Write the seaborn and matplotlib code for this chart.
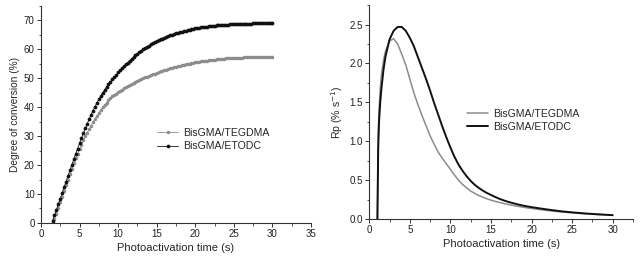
import numpy as np
import pandas as pd
import matplotlib
matplotlib.use("Agg")
import matplotlib.pyplot as plt
from matplotlib.ticker import MultipleLocator, FormatStrFormatter
import seaborn as sns

# ---------------- data ----------------
series_names = ["BisGMA/TEGDMA", "BisGMA/ETODC"]

dc_time = np.arange(1.5, 30.001, 0.25)

dc_tegdma = [0.0, 1.5,
             3.2, 5.2, 7.1, 9.1,
             11.0, 13.0, 14.9, 16.9,
             18.8, 20.6, 22.3, 23.9,
             25.5, 27.0, 28.5, 29.9,
             31.2, 32.4, 33.6, 34.8,
             36.0, 37.0, 38.0, 39.0,
             40.0, 40.8, 41.6, 42.5,
             43.3, 43.8, 44.3, 44.7,
             45.2, 45.6, 46.1, 46.5,
             46.9, 47.3, 47.7, 48.0,
             48.4, 48.7, 49.1, 49.4,
             49.7, 50.0, 50.3, 50.5,
             50.8, 51.1, 51.4, 51.6,
             51.9, 52.1, 52.4, 52.6,
             52.8, 53.0, 53.2, 53.4,
             53.6, 53.8, 54.0, 54.1,
             54.3, 54.5, 54.6, 54.8,
             54.9, 55.05, 55.2, 55.35,
             55.5, 55.6, 55.7, 55.8,
             55.9, 56.0, 56.1, 56.2,
             56.3, 56.4, 56.45, 56.55,
             56.6, 56.7, 56.75, 56.8,
             56.85, 56.9, 56.95, 57.0,
             57.0, 57.05, 57.1, 57.1,
             57.15, 57.2, 57.2, 57.25,
             57.25, 57.3, 57.3, 57.35,
             57.35, 57.4, 57.4, 57.45,
             57.45, 57.5, 57.5, 57.5,
             57.5]

dc_etodc = [0.8, 2.6,
            4.5, 6.5, 8.4, 10.4,
            12.3, 14.3, 16.2, 18.2,
            20.1, 22.0, 23.9, 25.7,
            27.5, 29.3, 31.0, 32.7,
            34.3, 35.9, 37.4, 38.8,
            40.2, 41.5, 42.7, 43.9,
            45.0, 46.0, 47.0, 47.9,
            48.8, 49.6, 50.4, 51.2,
            52.0, 52.7, 53.4, 54.1,
            54.8, 55.4, 56.1, 56.7,
            57.3, 57.9, 58.4, 59.0,
            59.5, 60.0, 60.4, 60.9,
            61.3, 61.7, 62.1, 62.5,
            62.8, 63.1, 63.4, 63.7,
            64.0, 64.3, 64.5, 64.8,
            65.0, 65.2, 65.5, 65.7,
            65.9, 66.1, 66.3, 66.4,
            66.6, 66.8, 66.9, 67.1,
            67.2, 67.3, 67.45, 67.6,
            67.7, 67.8, 67.85, 67.95,
            68.0, 68.1, 68.15, 68.25,
            68.3, 68.35, 68.4, 68.45,
            68.5, 68.55, 68.6, 68.65,
            68.7, 68.72, 68.75, 68.78,
            68.8, 68.82, 68.85, 68.88,
            68.9, 68.92, 68.95, 68.97,
            69.0, 69.0, 69.0, 69.0,
            69.0, 69.02, 69.05, 69.07,
            69.1]

rp_time = [1.0, 1.1, 1.2, 1.35, 1.5, 1.75, 2.0, 2.5, 3.0, 3.5, 4.0, 4.5, 5.0,
           5.5, 6.0, 6.5, 7.0, 7.5, 8.0, 8.5, 9.0, 9.5, 10.0, 10.5, 11.0,
           11.5, 12.0, 12.5, 13.0, 13.5, 14.0, 14.5, 15.0, 15.5, 16.0, 16.5,
           17.0, 17.5, 18.0, 18.5, 19.0, 19.5, 20.0, 21.0, 22.0, 23.0, 24.0,
           25.0, 26.0, 27.0, 28.0, 29.0, 30.0]

rp_tegdma = [0.0, 1.1, 1.4, 1.68, 1.86, 2.04, 2.16, 2.29, 2.32, 2.25, 2.12,
             1.98, 1.80, 1.62, 1.47, 1.33, 1.20, 1.07, 0.96, 0.86, 0.78, 0.71,
             0.64, 0.565, 0.50, 0.445, 0.40, 0.36, 0.33, 0.302, 0.28, 0.26,
             0.243, 0.228, 0.214, 0.201, 0.19, 0.179, 0.169, 0.16, 0.151,
             0.143, 0.136, 0.122, 0.109, 0.098, 0.088, 0.08, 0.072, 0.066,
             0.06, 0.055, 0.05]

rp_etodc = [0.0, 0.9, 1.25, 1.5, 1.68, 1.92, 2.09, 2.31, 2.42, 2.47, 2.47,
            2.42, 2.33, 2.22, 2.08, 1.94, 1.80, 1.65, 1.49, 1.34, 1.19, 1.05,
            0.92, 0.80, 0.70, 0.62, 0.55, 0.49, 0.44, 0.40, 0.365, 0.335,
            0.31, 0.285, 0.262, 0.242, 0.225, 0.21, 0.196, 0.183, 0.172,
            0.162, 0.153, 0.137, 0.122, 0.108, 0.096, 0.086, 0.077, 0.069,
            0.062, 0.056, 0.05]

# ---------------- style ----------------
sns.set_style("ticks")
plt.rcParams["font.family"] = ["Liberation Sans", "DejaVu Sans"]
plt.rcParams["axes.linewidth"] = 0.8

fig = plt.figure(figsize=(6.4, 2.58), dpi=100)
ax1 = fig.add_axes([0.064, 0.136, 0.422, 0.841])
ax2 = fig.add_axes([0.577, 0.151, 0.412, 0.829])

grey = "#8c8c8c"
blk = "#111111"

# ---------------- left panel ----------------
sns.lineplot(x=dc_time, y=dc_tegdma, ax=ax1, color=grey, lw=0.6,
             marker="o", markersize=2.5, markeredgewidth=0,
             markerfacecolor=grey, label=series_names[0])
sns.lineplot(x=dc_time, y=dc_etodc, ax=ax1, color=blk, lw=0.6,
             marker="o", markersize=2.7, markeredgewidth=0,
             markerfacecolor=blk, label=series_names[1])
ax1.set_xlim(0, 35)
ax1.set_ylim(0, 75)
ax1.xaxis.set_major_locator(MultipleLocator(5))
ax1.xaxis.set_minor_locator(MultipleLocator(2.5))
ax1.yaxis.set_major_locator(MultipleLocator(10))
ax1.yaxis.set_minor_locator(MultipleLocator(5))
ax1.set_xlabel("Photoactivation time (s)", fontsize=8, labelpad=3)
ax1.set_ylabel("Degree of conversion (%)", fontsize=7.3, labelpad=3)
ax1.legend(loc="upper left", bbox_to_anchor=(0.415, 0.456), frameon=False,
           fontsize=7.6, handlelength=2.0, handletextpad=0.45,
           labelspacing=0.3, borderaxespad=0)

# ---------------- right panel ----------------
sns.lineplot(x=rp_time, y=rp_tegdma, ax=ax2, color=grey, lw=1.1,
             label=series_names[0])
sns.lineplot(x=rp_time, y=rp_etodc, ax=ax2, color=blk, lw=1.4,
             label=series_names[1])
ax2.set_xlim(0, 32.5)
ax2.set_ylim(0, 2.75)
ax2.xaxis.set_major_locator(MultipleLocator(5))
ax2.xaxis.set_minor_locator(MultipleLocator(2.5))
ax2.yaxis.set_major_locator(MultipleLocator(0.5))
ax2.yaxis.set_minor_locator(MultipleLocator(0.25))
ax2.yaxis.set_major_formatter(FormatStrFormatter("%.1f"))
ax2.set_xlabel("Photoactivation time (s)", fontsize=8, labelpad=3)
ax2.set_ylabel("Rp (% s$^{-1}$)", fontsize=7.6, labelpad=3)
ax2.legend(loc="upper left", bbox_to_anchor=(0.355, 0.535), frameon=False,
           fontsize=7.6, handlelength=2.0, handletextpad=0.45,
           labelspacing=0.3, borderaxespad=0)

for ax in (ax1, ax2):
    sns.despine(ax=ax)
    ax.tick_params(axis="both", which="major", labelsize=7, length=3,
                   width=0.7, direction="out", pad=1.5, colors="#333333",
                   labelcolor="#222222")
    ax.tick_params(axis="both", which="minor", length=1.8, width=0.6,
                   direction="out", colors="#333333")
    for s in ax.spines.values():
        s.set_color("#333333")

fig.savefig("out.png", dpi=100)
